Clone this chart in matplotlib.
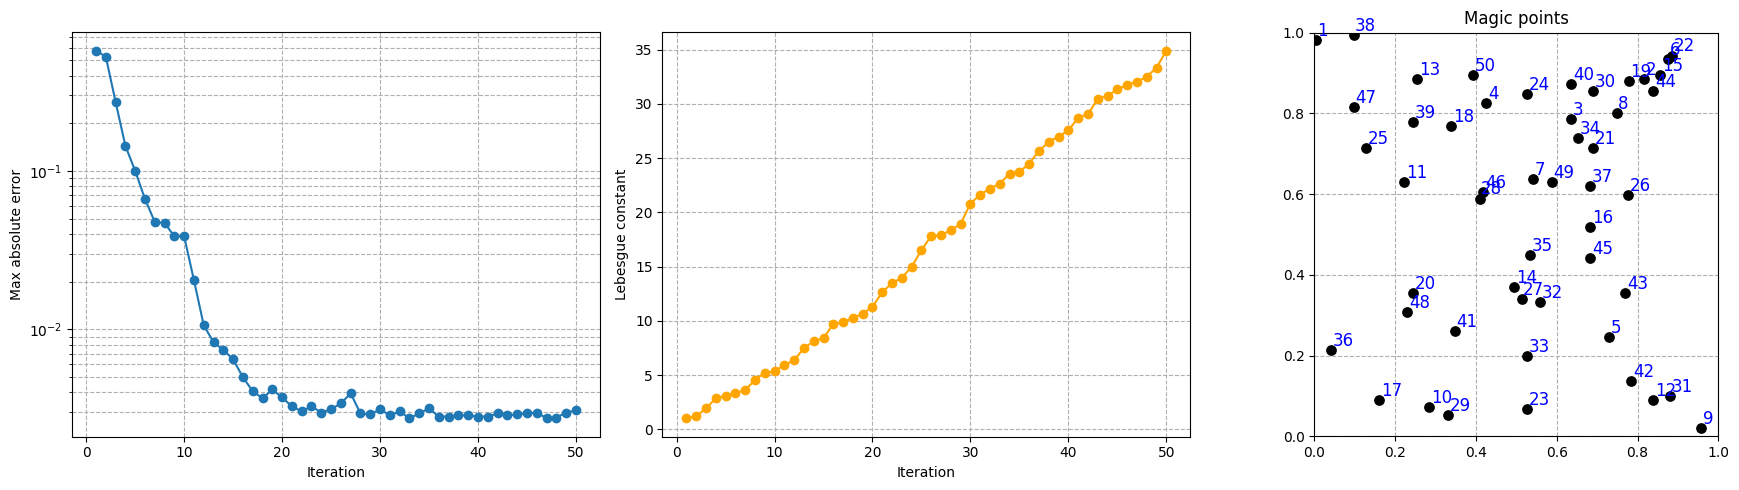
import matplotlib
matplotlib.use("Agg")
import matplotlib.pyplot as plt
import numpy as np

# iteration number 1..50
iteracoes = list(range(1, 51))

# max absolute error per iteration (log scale)
erro_max = [0.574, 0.527, 0.273, 0.144, 0.100, 0.0665, 0.0476, 0.0469, 0.0386, 0.0386,
            0.0204, 0.0106, 0.00828, 0.00740, 0.00646, 0.00497, 0.00407, 0.00366, 0.00417, 0.00371,
            0.00326, 0.00303, 0.00326, 0.00298, 0.00313, 0.00340, 0.00394, 0.00294, 0.00290, 0.00312,
            0.00286, 0.00303, 0.00274, 0.00294, 0.00316, 0.00281, 0.00281, 0.00286, 0.00286, 0.00281,
            0.00281, 0.00294, 0.00286, 0.00290, 0.00294, 0.00298, 0.00274, 0.00277, 0.00298, 0.00307]

# Lebesgue constant per iteration
lebesgue = [1.02, 1.20, 1.94, 2.86, 3.11, 3.35, 3.60, 4.56, 5.20, 5.36,
            5.94, 6.37, 7.48, 8.13, 8.40, 9.73, 9.88, 10.28, 10.65, 11.30,
            12.65, 13.48, 13.97, 14.99, 16.53, 17.82, 17.88, 18.37, 18.93, 20.81,
            21.64, 22.19, 22.65, 23.58, 23.73, 24.50, 25.67, 26.50, 26.99, 27.55,
            28.72, 29.05, 30.47, 30.75, 31.33, 31.76, 32.04, 32.50, 33.33, 34.90]

# magic points, in selection order (label = index + 1)
magic_x = [0.004, 0.817, 0.636, 0.426, 0.730, 0.875, 0.542, 0.748, 0.958, 0.285,
           0.223, 0.839, 0.255, 0.495, 0.856, 0.683, 0.161, 0.339, 0.778, 0.245,
           0.691, 0.886, 0.527, 0.527, 0.129, 0.777, 0.513, 0.409, 0.332, 0.691,
           0.880, 0.559, 0.527, 0.653, 0.535, 0.042, 0.683, 0.097, 0.245, 0.636,
           0.347, 0.785, 0.770, 0.839, 0.683, 0.418, 0.097, 0.230, 0.588, 0.393]
magic_y = [0.981, 0.885, 0.786, 0.825, 0.247, 0.935, 0.637, 0.800, 0.020, 0.074,
           0.630, 0.091, 0.886, 0.370, 0.894, 0.519, 0.091, 0.768, 0.880, 0.355,
           0.714, 0.943, 0.067, 0.847, 0.714, 0.598, 0.340, 0.589, 0.052, 0.855,
           0.099, 0.334, 0.200, 0.739, 0.449, 0.215, 0.620, 0.994, 0.778, 0.872,
           0.261, 0.138, 0.355, 0.855, 0.441, 0.604, 0.815, 0.309, 0.630, 0.894]


def plotar(erro, leb, px, py):
    fig = plt.figure(figsize=(17.39, 4.9), dpi=100)
    ax1 = fig.add_axes([0.0414, 0.1088, 0.3036, 0.8253])
    ax2 = fig.add_axes([0.3809, 0.1088, 0.3036, 0.8253])
    ax3 = fig.add_axes([0.7558, 0.1088, 0.2323, 0.8253])

    ax1.semilogy(iteracoes, erro, marker='o')
    ax1.set_xlabel("Iteration")
    ax1.set_ylabel("Max absolute error")
    ax1.grid(True, which='both', linestyle='--')

    ax2.plot(iteracoes, leb, marker='o', color='orange')
    ax2.set_xlabel("Iteration")
    ax2.set_ylabel("Lebesgue constant")
    ax2.grid(True, linestyle='--')

    ax3.scatter(px, py, color='black', s=45, zorder=3)
    for i, (x, y) in enumerate(zip(px, py)):
        ax3.text(x + 0.004, y + 0.01, str(i + 1), color='blue', fontsize=12)
    ax3.set_xlim(0, 1)
    ax3.set_ylim(0, 1)
    ax3.set_aspect('equal')
    ax3.set_title("Magic points")
    ax3.grid(True, linestyle='--')

    fig.savefig("out.png", dpi=100)


if __name__ == "__main__":
    plotar(erro_max, lebesgue, magic_x, magic_y)
